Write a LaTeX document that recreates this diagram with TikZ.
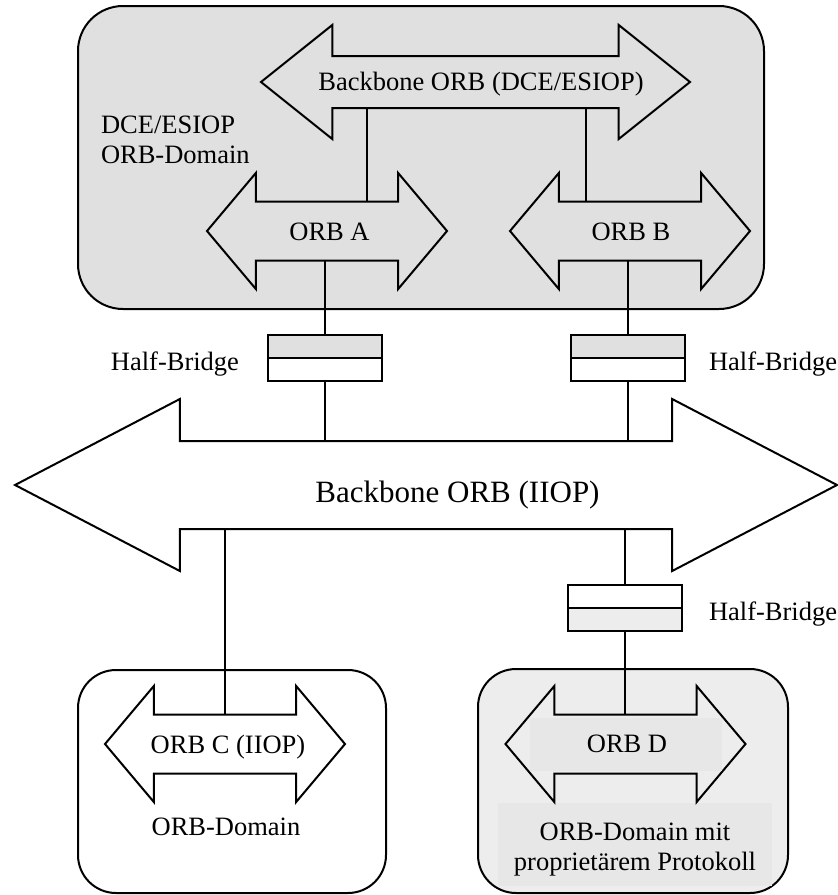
\documentclass[tikz,border=0pt]{standalone}
\usepackage{fontspec}
\setmainfont{Liberation Serif}
\usepackage{tikz}
\usetikzlibrary{shapes,arrows,positioning,calc}

\definecolor{granit}{gray}{0.88}
\definecolor{streifen}{gray}{0.93}
\definecolor{streifendunkel}{gray}{0.905}

\begin{document}
\begin{tikzpicture}[x=0.5pt, y=-0.5pt, line width=1pt,
    font=\fontsize{13.25}{15}\selectfont,
    orbdomain/.style={draw, rectangle, rounded corners=#1, inner sep=0pt, outer sep=0pt},
    orb/.style={draw, double arrow, inner xsep=0pt, inner ysep=14.25pt, outer sep=0pt,
        double arrow head extend=14.25pt, double arrow tip angle=99.8,
        minimum height=120pt, minimum width=0pt},
    halfbridge/.style={draw, rectangle, minimum width=57pt, minimum height=11.5pt,
        inner sep=0pt, outer sep=0pt},
    lbl/.style={inner sep=0pt}]
    \useasboundingbox (0,0) rectangle (837,895);

    \node [orbdomain=22.5pt, fill=granit, minimum width=343pt, minimum height=151.5pt] (dceDom) at (421,157.5) {};
    \node [orbdomain=19pt, minimum width=154pt, minimum height=111.5pt] (domC) at (232,781.5) {};
    \node [orbdomain=19pt, fill=streifen, minimum width=155pt, minimum height=112pt] (domD) at (633,781) {};
    \fill [streifendunkel] (498,803) rectangle (772,886);

    \node [orb, minimum height=214.5pt, inner ysep=12.5pt, double arrow head extend=15.5pt,
        double arrow tip angle=77.3] (bbDCE) at (475.5,82) {};
    \node [orb] (ORBA) at (327,231) {};
    \node [orb] (ORBB) at (630,231) {};
    \node [orb, minimum height=411pt, inner ysep=21.5pt, double arrow head extend=21pt,
        double arrow tip angle=55.1] (bbIIOP) at (426,485) {};
    \node [orb] (ORBC) at (225,744) {};
    \node [orb, fill=streifen] (ORBD) at (625.5,744) {};
    \fill [streifendunkel] (530,718) rectangle (722,771);

    \node [halfbridge, fill=granit] (hbA) at (325,346.5) {};
    \node [halfbridge, below=0pt of hbA] (hbAlow) {};
    \node [halfbridge, fill=granit] (hbB) at (628,346.5) {};
    \node [halfbridge, below=0pt of hbB] (hbBlow) {};
    \node [halfbridge] (hbD) at (625,596.5) {};
    \node [halfbridge, fill=streifen, below=0pt of hbD] (hbDlow) {};

    \coordinate (tapA) at (367,0);
    \coordinate (tapB) at (586,0);
    \draw (tapA |- bbDCE.south) -- (tapA |- ORBA.north);
    \draw (tapB |- bbDCE.south) -- (tapB |- ORBB.north);
    \draw (ORBA.south -| hbA.north) -- (hbA.north);
    \draw (ORBB.south -| hbB.north) -- (hbB.north);
    \draw (hbAlow.south) -- (hbAlow.south |- bbIIOP.north);
    \draw (hbBlow.south) -- (hbBlow.south |- bbIIOP.north);
    \draw (bbIIOP.south -| ORBC.north) -- (ORBC.north);
    \draw (bbIIOP.south -| hbD.north) -- (hbD.north);
    \draw (hbDlow.south) -- (hbDlow.south |- ORBD.north);

    \node [lbl, anchor=base] (lblDCE) at (481,90) {Backbone ORB (DCE/ESIOP)};
    \node [lbl, anchor=north west, align=left] (lblDom) at (100,115) {DCE/ESIOP\\ORB-Domain};
    \node [lbl, anchor=base] (lblA) at (329.5,240) {ORB A};
    \node [lbl, anchor=base] (lblB) at (631,240) {ORB B};
    \node [lbl, anchor=base east] (lblHBA) at (240,370) {Half-Bridge};
    \node [lbl, anchor=base west] (lblHBB) at (708,370) {Half-Bridge};
    \node [lbl, anchor=base, font=\fontsize{15.5}{18}\selectfont] (lblIIOP) at (457.5,502) {Backbone ORB (IIOP)};
    \node [lbl, anchor=base west] (lblHBD) at (708,620) {Half-Bridge};
    \node [lbl, anchor=base] (lblC) at (228,753) {ORB C (IIOP)};
    \node [lbl, anchor=base] (lblDomC) at (226,835) {ORB-Domain};
    \node [lbl, anchor=base] (lblD) at (627,752) {ORB D};
    \node [lbl, anchor=north, align=center] (lblDomD) at (635,822) {ORB-Domain mit\\proprietärem Protokoll};
\end{tikzpicture}
\end{document}
